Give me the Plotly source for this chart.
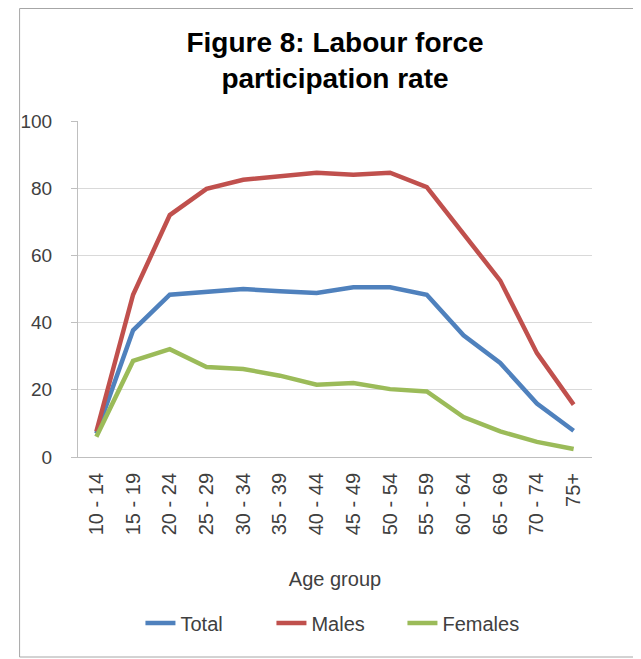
import plotly.graph_objects as go

age_groups = ["10 - 14", "15 - 19", "20 - 24", "25 - 29", "30 - 34", "35 - 39", "40 - 44",
              "45 - 49", "50 - 54", "55 - 59", "60 - 64", "65 - 69", "70 - 74", "75+"]
total = [7.0, 37.7, 48.3, 49.0, 50.0, 49.3, 48.8, 50.5, 50.5, 48.3, 36.2, 28.0, 15.9, 7.8]
males = [7.6, 48.3, 72.0, 79.8, 82.5, 83.5, 84.6, 84.0, 84.6, 80.3, 66.6, 52.5, 30.9, 15.6]
females = [6.0, 28.6, 32.1, 26.8, 26.2, 24.2, 21.5, 22.0, 20.2, 19.5, 11.9, 7.6, 4.5, 2.4]
y_ticks = [0, 20, 40, 60, 80, 100]

FONT = "Liberation Sans, Arial, sans-serif"

fig = go.Figure()
for name, vals, col in [("Total", total, "#4F81BD"),
                        ("Males", males, "#C0504D"),
                        ("Females", females, "#9BBB59")]:
    fig.add_trace(go.Scatter(x=age_groups, y=vals, mode="lines", name=name,
                             line=dict(color=col, width=4.5)))

# page has an 8px body margin: figure (0,0) sits at page (8,8)
OFF = 8
W, H = 641 - OFF, 659 - OFF
L = 64 - OFF
R = W - (592 - OFF)
T = 121 - OFF
B = H - (457 - OFF)
pw, ph = W - L - R, H - T - B

def px_x(p):
    return (p - OFF - L) / pw

def px_y(p):
    return (H - B - (p - OFF)) / ph

fig.update_layout(
    width=W, height=H,
    margin=dict(l=L, r=R, t=T, b=B),
    paper_bgcolor="white", plot_bgcolor="white",
    font=dict(family=FONT, color="#404040"),
    title=dict(text="<b>Figure 8: Labour force<br>participation rate</b>",
               font=dict(size=28, color="#000000", family=FONT),
               x=0.5, xref="paper", xanchor="center",
               y=1 - 44 / H, yref="container", yanchor="top"),
    xaxis=dict(type="category", range=[-0.5, len(age_groups) - 0.5],
               showgrid=False, showline=True, linecolor="#BFBFBF", linewidth=1,
               ticks="", tickangle=-90, tickfont=dict(size=20, color="#404040"),
               ticklabelstandoff=7,
               title=dict(text="Age group", font=dict(size=20, color="#404040"), standoff=37),
               fixedrange=True),
    yaxis=dict(range=[0, 100], tickvals=y_ticks, showgrid=True, gridcolor="#D9D9D9",
               gridwidth=1, showline=True, linecolor="#BFBFBF", linewidth=1,
               ticks="outside", ticklen=6, tickcolor="#BFBFBF",
               tickfont=dict(size=19, color="#404040"), ticklabelstandoff=15,
               zeroline=False, fixedrange=True),
    legend=dict(orientation="h", x=px_x(330), xanchor="center",
                y=px_y(623), yanchor="middle", font=dict(size=20, color="#404040"),
                bgcolor="rgba(0,0,0,0)", entrywidth=86, entrywidthmode="pixels"),
    showlegend=True,
    shapes=[dict(type="rect", xref="paper", yref="paper",
                 x0=px_x(4), x1=px_x(638), y0=px_y(657), y1=px_y(8.5),
                 line=dict(color="#A6A6A6", width=1), fillcolor="rgba(0,0,0,0)", layer="below")],
)

fig.write_html("out.html")
